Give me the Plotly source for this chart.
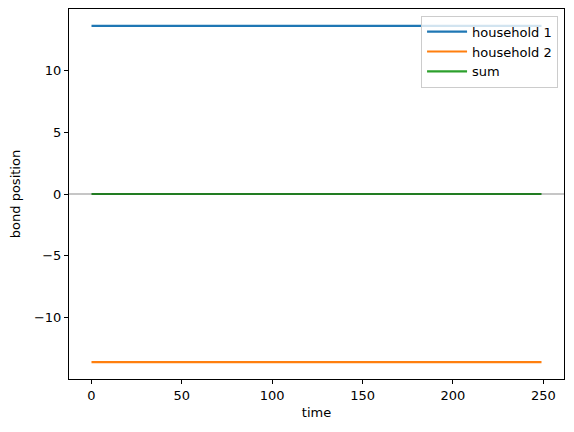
import numpy as np
import plotly.graph_objects as go

time = list(range(250))
household_1 = [13.6] * 250
household_2 = [-13.6] * 250
total = [0.0] * 250
x_ticks = [0, 50, 100, 150, 200, 250]
y_ticks = [-10, -5, 0, 5, 10]
y_tick_text = ["\u221210", "\u22125", "0", "5", "10"]

fig = go.Figure()
fig.add_trace(go.Scatter(x=time, y=household_1, mode="lines", name="household 1",
                         line=dict(color="#1f77b4", width=2.2)))
fig.add_trace(go.Scatter(x=time, y=household_2, mode="lines", name="household 2",
                         line=dict(color="#ff7f0e", width=2.2)))
fig.add_trace(go.Scatter(x=time, y=total, mode="lines", name="sum",
                         line=dict(color="#2ca02c", width=2.2)))
fig.add_shape(type="line", xref="paper", x0=0, x1=1, yref="y", y0=0, y1=0,
              line=dict(color="rgba(0,0,0,0.45)", width=1), layer="above")

font = dict(family="DejaVu Sans", size=13, color="black")
fig.update_layout(
    width=566, height=424,
    margin=dict(l=61, r=10, t=1, b=53),
    plot_bgcolor="white", paper_bgcolor="white",
    font=font,
    showlegend=True,
    legend=dict(x=0.988, y=0.982, xanchor="right", yanchor="top",
                bgcolor="rgba(255,255,255,0.8)", bordercolor="#cccccc", borderwidth=1,
                font=dict(family="DejaVu Sans", size=13), itemwidth=40),
    xaxis=dict(range=[-12.45, 261.45], tickvals=x_ticks, showgrid=False, zeroline=False,
               showline=True, linecolor="black", linewidth=1, mirror=True,
               ticks="outside", ticklen=4, tickcolor="black", automargin=False,
               title=dict(text="time", font=font, standoff=6)),
    yaxis=dict(range=[-14.96, 14.96], tickvals=y_ticks, ticktext=y_tick_text,
               showgrid=False, zeroline=False, automargin=False,
               showline=True, linecolor="black", linewidth=1, mirror=True,
               ticks="outside", ticklen=4, tickcolor="black",
               title=dict(text="bond position", font=font, standoff=10)),
)
fig.write_html("out.html")
